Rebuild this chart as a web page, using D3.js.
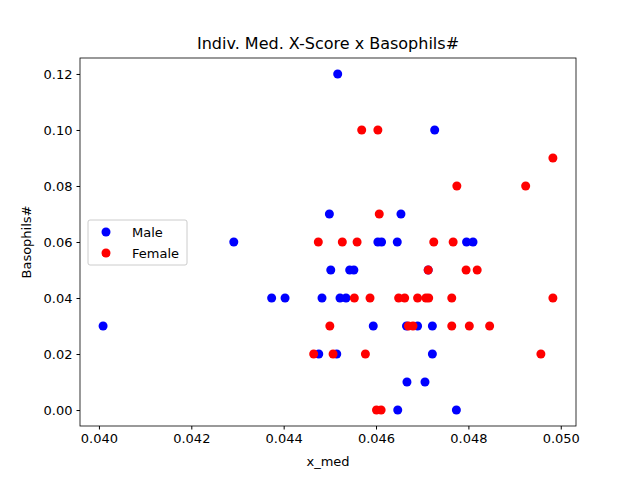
<!DOCTYPE html>
<html><head><meta charset="utf-8">
<script src="https://cdn.jsdelivr.net/npm/d3@7"></script>
<style>body{margin:0;background:#fff}text{font-family:"DejaVu Sans",sans-serif}</style>
</head><body>
<script>
const maleX = [0.04009,0.04292,0.04374,0.04403,0.04517,0.04727,0.04499,0.04654,0.04604,0.04612,0.04646,0.04796,0.04810,0.04502,0.04543,0.04552,0.04713,0.04483,0.04522,0.04535,0.04594,0.04666,0.04690,0.04722,0.04476,0.04515,0.04722,0.04667,0.04706,0.04647,0.04774]
const maleY = [0.03,0.06,0.04,0.04,0.12,0.10,0.07,0.07,0.06,0.06,0.06,0.06,0.06,0.05,0.05,0.05,0.05,0.04,0.04,0.04,0.03,0.03,0.03,0.03,0.02,0.02,0.02,0.01,0.01,0.00,0.00]
const femaleX = [0.04569,0.04604,0.04983,0.04775,0.04924,0.04607,0.04475,0.04527,0.04559,0.04725,0.04767,0.04713,0.04795,0.04819,0.04553,0.04587,0.04649,0.04662,0.04690,0.04708,0.04714,0.04764,0.04983,0.04500,0.04670,0.04680,0.04764,0.04802,0.04846,0.04465,0.04507,0.04577,0.04957,0.04601,0.04611]
const femaleY = [0.10,0.10,0.09,0.08,0.08,0.07,0.06,0.06,0.06,0.06,0.06,0.05,0.05,0.05,0.04,0.04,0.04,0.04,0.04,0.04,0.04,0.04,0.04,0.03,0.03,0.03,0.03,0.03,0.03,0.02,0.02,0.02,0.02,0.00,0.00]
const xTicks = [0.040,0.042,0.044,0.046,0.048,0.050]
const yTicks = [0.00,0.02,0.04,0.06,0.08,0.10,0.12]

const margin = {top: 58, right: 64, bottom: 54, left: 80}
const width = 640 - margin.left - margin.right
const height = 480 - margin.top - margin.bottom

const svg = d3.select('body').append('svg')
    .attr('width', 640).attr('height', 480)
const g = svg.append('g').attr('transform', `translate(${margin.left},${margin.top})`)

const x = d3.scaleLinear().domain([0.03959, 0.05033]).range([0, width])
const y = d3.scaleLinear().domain([-0.0057, 0.1257]).range([height, 0])

g.append('g').attr('transform', `translate(0,${height})`)
    .call(d3.axisBottom(x).tickValues(xTicks).tickFormat(d3.format('.3f')).tickSize(3.5).tickPadding(4))
g.append('g')
    .call(d3.axisLeft(y).tickValues(yTicks).tickFormat(d3.format('.2f')).tickSize(3.5).tickPadding(4))
g.selectAll('.domain').remove()
g.selectAll('.tick text').attr('font-size', 13).attr('fill', '#000')
g.append('rect').attr('width', width).attr('height', height)
    .attr('fill', 'none').attr('stroke', '#000').attr('stroke-width', 0.8)

g.selectAll('.m').data(d3.zip(maleX, maleY)).join('circle')
    .attr('cx', d => x(d[0])).attr('cy', d => y(d[1])).attr('r', 4.5).attr('fill', 'blue')
g.selectAll('.f').data(d3.zip(femaleX, femaleY)).join('circle')
    .attr('cx', d => x(d[0])).attr('cy', d => y(d[1])).attr('r', 4.5).attr('fill', 'red')

svg.append('text').attr('x', margin.left + width / 2).attr('y', 49)
    .attr('text-anchor', 'middle').attr('font-size', 16).text('Indiv. Med. X-Score x Basophils#')
svg.append('text').attr('x', margin.left + width / 2).attr('y', 466)
    .attr('text-anchor', 'middle').attr('font-size', 13).text('x_med')
svg.append('text').attr('transform', `translate(31,${margin.top + height / 2}) rotate(-90)`)
    .attr('text-anchor', 'middle').attr('font-size', 13).text('Basophils#')

const leg = svg.append('g').attr('transform', 'translate(88,220)')
leg.append('rect').attr('width', 99).attr('height', 45).attr('rx', 2)
    .attr('fill', 'white').attr('stroke', '#ccc')
const series = [['Male', 'blue'], ['Female', 'red']]
series.forEach((s, i) => {
    leg.append('circle').attr('cx', 18).attr('cy', 12 + i * 21).attr('r', 4.5).attr('fill', s[1])
    leg.append('text').attr('x', 44).attr('y', 17 + i * 21).attr('font-size', 13).text(s[0])
})
</script>
</body></html>
